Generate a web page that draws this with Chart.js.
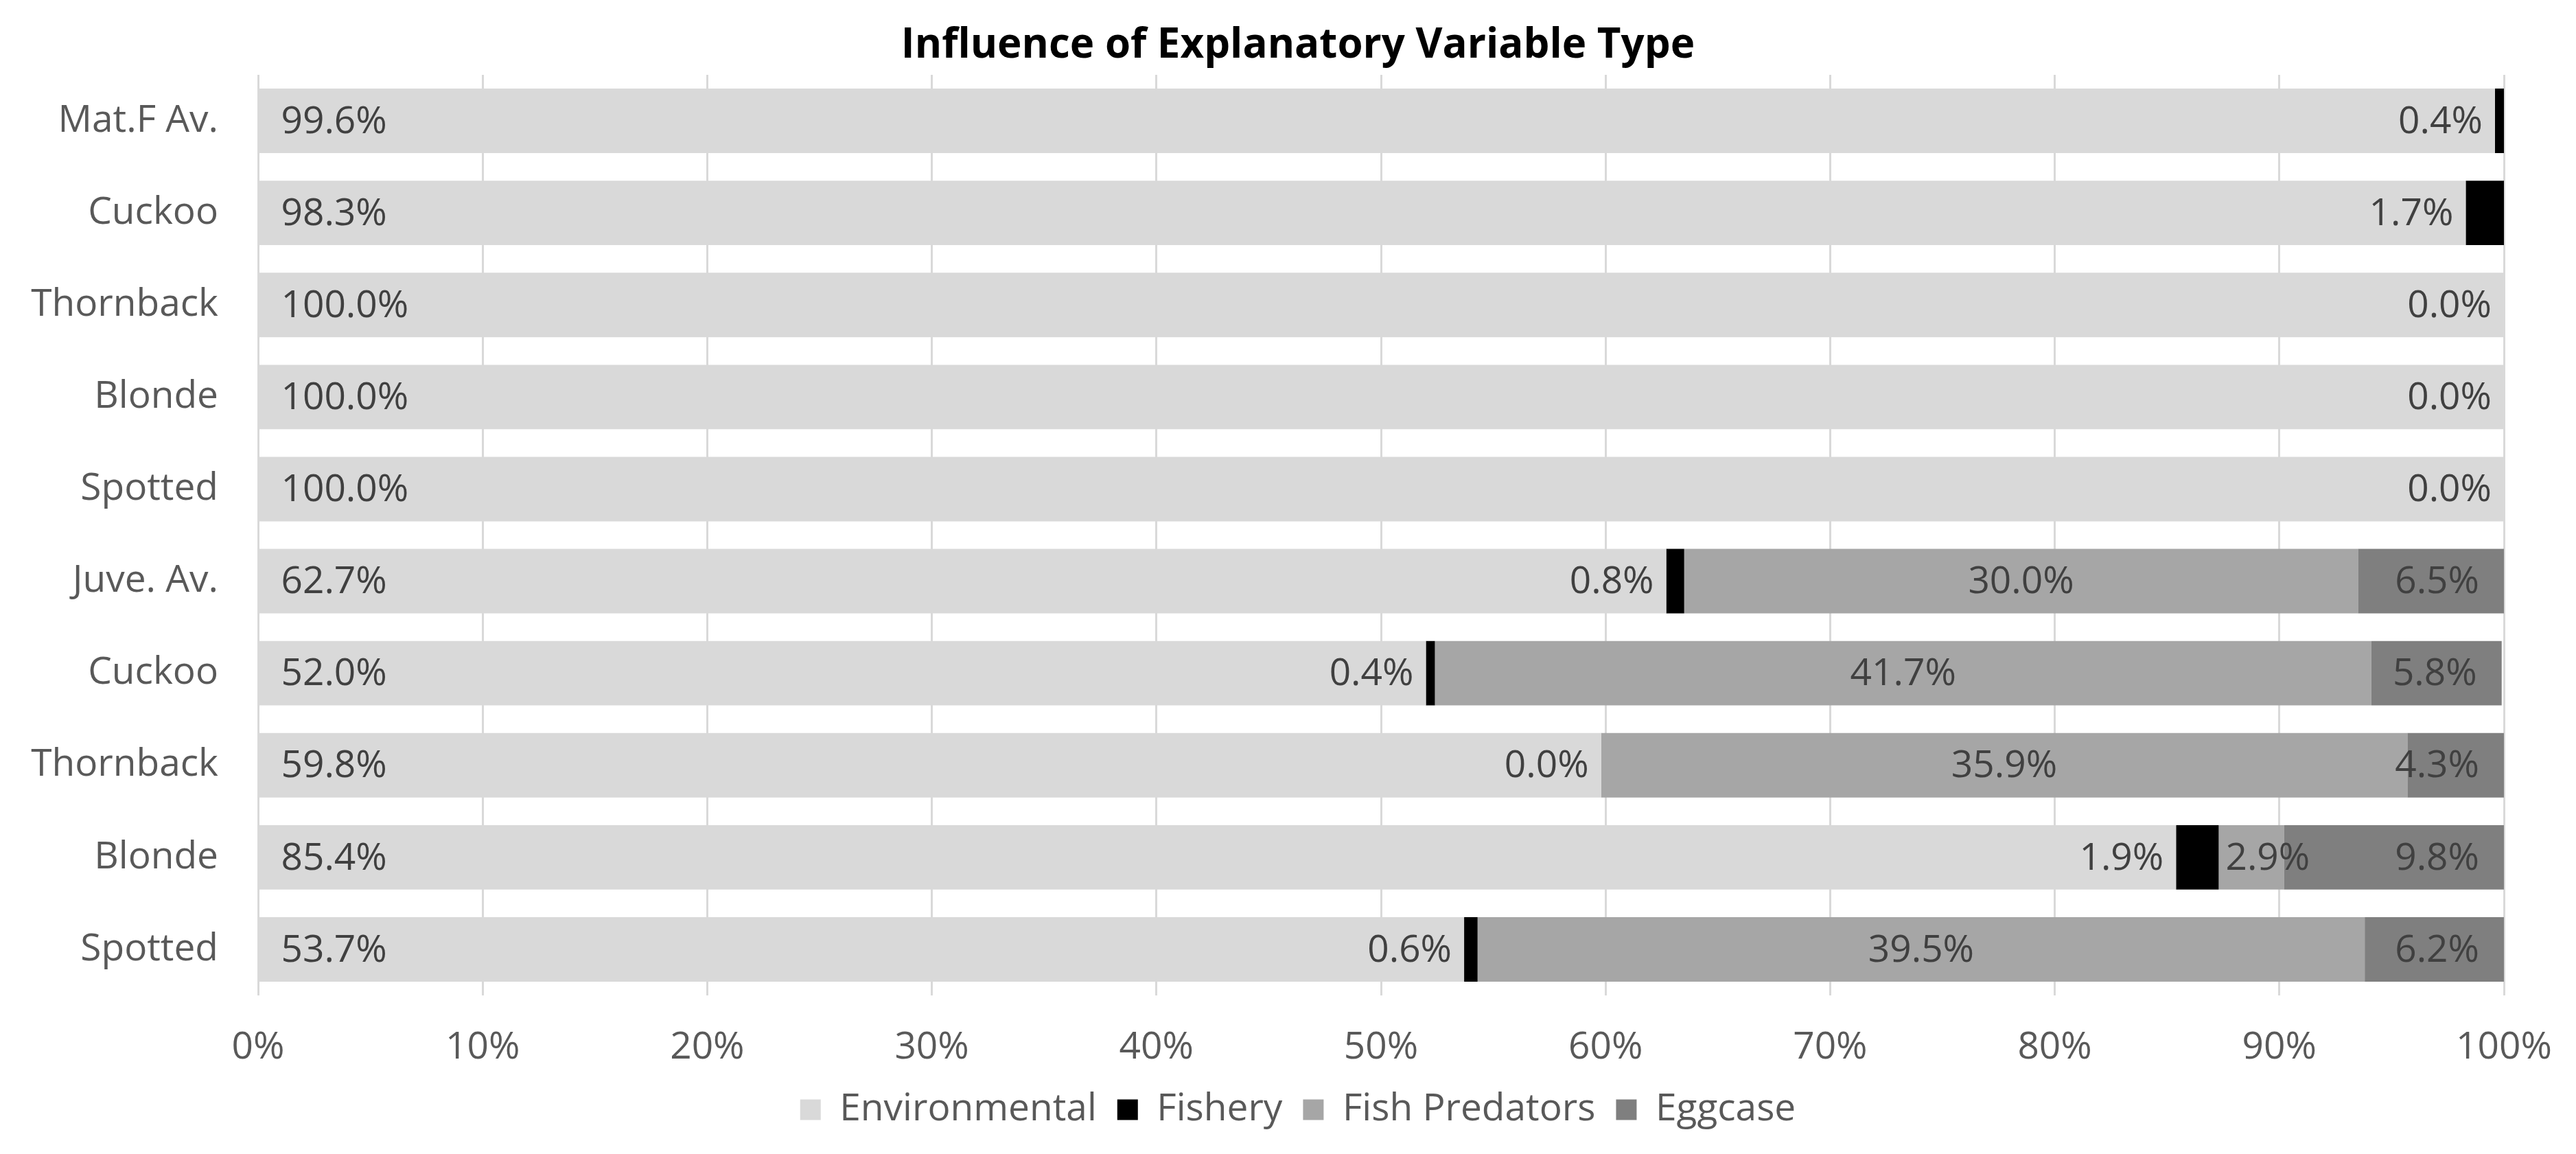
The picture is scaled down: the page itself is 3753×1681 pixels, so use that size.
<!DOCTYPE html>
<html>
<head>
<meta charset="utf-8">
<script src="https://cdn.jsdelivr.net/npm/chart.js@4.4.1/dist/chart.umd.min.js"></script>
<style>
  html, body { margin: 0; padding: 0; background: #fff; }
  canvas { display: block; }
</style>
</head>
<body>
<canvas id="myChart" width="3753" height="1681"></canvas>
<script>
// rows, top to bottom
var species = ['Mat.F Av.', 'Cuckoo', 'Thornback', 'Blonde', 'Spotted',
               'Juve. Av.', 'Cuckoo', 'Thornback', 'Blonde', 'Spotted'];

var environmental = [99.6, 98.3, 100.0, 100.0, 100.0, 62.7, 52.0, 59.8, 85.4, 53.7];
var fishery       = [0.4, 1.7, 0.0, 0.0, 0.0, 0.8, 0.4, 0.0, 1.9, 0.6];
var fishPredators = [null, null, null, null, null, 30.0, 41.7, 35.9, 2.9, 39.5];
var eggcase       = [null, null, null, null, null, 6.5, 5.8, 4.3, 9.8, 6.2];

var xTicks = [0, 10, 20, 30, 40, 50, 60, 70, 80, 90, 100];

var font = '"Open Sans", "Noto Sans", sans-serif';
var fontSize = 55;

// draws the % labels next to / inside the bar segments
var barLabels = {
    id: 'barLabels',
    afterLayout: function(chart) {
        // let the y labels use the space left of the layout padding (no clipping)
        chart.scales.y.left = 0;
    },
    afterDatasetsDraw: function(chart) {
        var ctx = chart.ctx;
        ctx.save();
        ctx.font = fontSize + 'px ' + font;
        ctx.fillStyle = '#404040';
        ctx.textBaseline = 'middle';
        chart.data.datasets.forEach(function(ds, i) {
            var meta = chart.getDatasetMeta(i);
            meta.data.forEach(function(bar, j) {
                var v = ds.data[j];
                if (v === null || v === undefined) return;
                var p = bar.getProps(['x', 'y', 'base'], true);
                var txt = v.toFixed(1) + '%';
                var w = ctx.measureText(txt).width;
                var x;
                if (i === 0) {
                    ctx.textAlign = 'left';
                    x = p.base + 32;
                } else if (i === 1) {
                    ctx.textAlign = 'right';
                    x = Math.min(p.base, p.x) - 18;
                } else if (i === 2) {
                    ctx.textAlign = 'center';
                    x = Math.max((p.base + p.x) / 2, p.base + w / 2 + 10);
                } else {
                    ctx.textAlign = 'right';
                    x = p.x - 36;
                }
                ctx.fillText(txt, x, p.y + 2);
            });
        });
        ctx.restore();
    }
};

var myChart = document.getElementById('myChart').getContext('2d');

var chart = new Chart(myChart, {
    type: 'bar',
    data: {
        labels: species,
        datasets: [{
            label: 'Environmental',
            data: environmental,
            backgroundColor: '#d9d9d9'
        },
        {
            label: 'Fishery',
            data: fishery,
            backgroundColor: '#000000'
        },
        {
            label: 'Fish Predators',
            data: fishPredators,
            backgroundColor: '#a6a6a6'
        },
        {
            label: 'Eggcase',
            data: eggcase,
            backgroundColor: '#7f7f7f'
        }]
    },
    options: {
        indexAxis: 'y',
        responsive: false,
        animation: false,
        devicePixelRatio: 1,
        layout: { padding: { left: 134, right: 105, top: 0, bottom: 27 } },
        datasets: {
            bar: { categoryPercentage: 1.0, barPercentage: 0.7 }
        },
        scales: {
            x: {
                stacked: true,
                min: 0,
                max: 100,
                afterBuildTicks: function(scale) {
                    scale.ticks = xTicks.map(function(v) { return { value: v }; });
                },
                afterFit: function(scale) {
                    scale.height = 109;
                    scale.paddingLeft = 0;
                    scale.paddingRight = 0;
                },
                ticks: {
                    padding: 43,
                    color: '#595959',
                    font: { family: font, size: fontSize },
                    callback: function(v) { return v + '%'; }
                },
                grid: { color: '#d9d9d9', lineWidth: 3, drawTicks: false },
                border: { display: false }
            },
            y: {
                stacked: true,
                afterFit: function(scale) { scale.width = 242; },
                ticks: {
                    padding: 58,
                    color: '#595959',
                    font: { family: font, size: fontSize }
                },
                grid: { display: false, drawTicks: false },
                border: { display: false }
            }
        },
        plugins: {
            title: {
                display: true,
                text: 'Influence of Explanatory Variable Type',
                color: '#000000',
                font: { family: font, size: 60, weight: 'bold' },
                padding: { top: 31, bottom: 6 }
            },
            legend: {
                position: 'bottom',
                labels: {
                    color: '#595959',
                    font: { family: font, size: fontSize },
                    boxWidth: 30,
                    boxHeight: 30,
                    padding: 30
                }
            },
            tooltip: { enabled: false }
        }
    },
    plugins: [barLabels]
});
</script>
</body>
</html>
